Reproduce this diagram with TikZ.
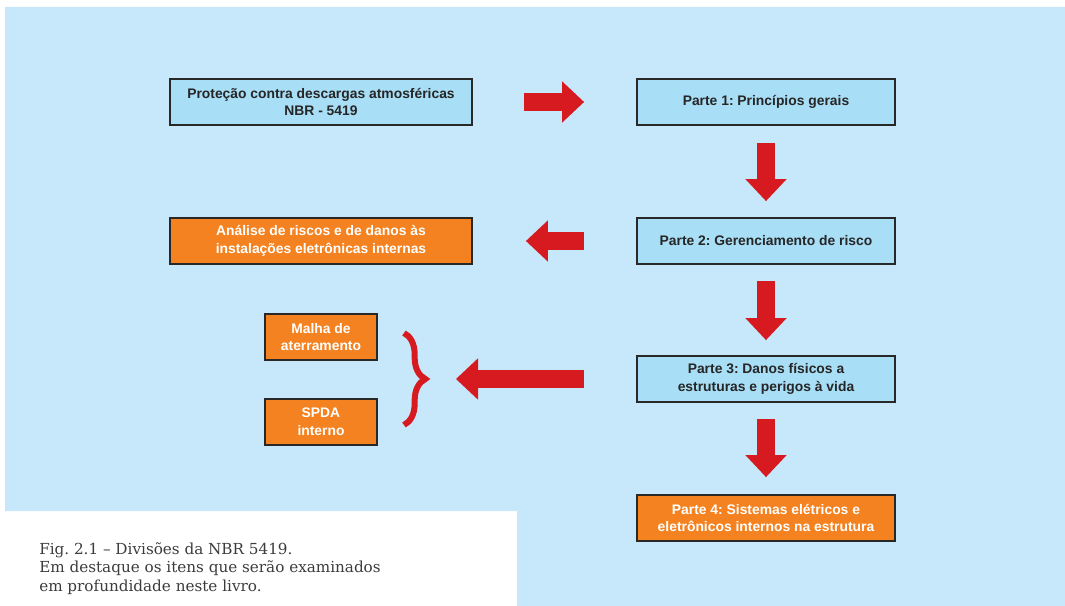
\documentclass[tikz,border=0pt]{standalone}
\usepackage{fontspec}
\setsansfont{Liberation Sans}
\newfontfamily\capfont{DejaVu Serif}
\usetikzlibrary{arrows.meta,decorations.pathreplacing}

\definecolor{bgblue}{RGB}{198,232,250}
\definecolor{boxblue}{RGB}{168,222,246}
\definecolor{boxorange}{RGB}{245,130,32}
\definecolor{arrowred}{RGB}{215,25,32}
\definecolor{boxline}{RGB}{40,40,40}
\definecolor{captext}{RGB}{60,60,60}

\tikzset{
  part/.style={draw=boxline, line width=1.4pt, fill=boxblue, text=black!85,
    minimum width=193.5pt, minimum height=34.5pt, align=center,
    font=\sffamily\bfseries\fontsize{10.4}{13.2}\selectfont},
  hilite/.style={part, fill=boxorange, text=white},
  bigarrow/.style={draw=arrowred, line width=13.5pt,
    -{Triangle[length=16.5pt,width=31pt,line width=0pt]}},
}

\begin{document}
\frenchspacing
\begin{tikzpicture}[x=0.75pt,y=-0.75pt]
\useasboundingbox (0,0) rectangle (1065,606);
\fill[bgblue] (5,7) -- (1065,7) -- (1065,606) -- (517,606) -- (517,511) -- (5,511) -- cycle;

% left column
\node[part, minimum width=226.5pt] (nbr) at (321,102) {Proteção contra descargas atmosféricas\\NBR - 5419};
\node[hilite, minimum width=226.5pt] (riscos) at (321,241) {Análise de riscos e de danos às\\instalações eletrônicas internas};
\node[hilite, minimum width=84pt] (malha) at (321,337) {Malha de\\aterramento};
\node[hilite, minimum width=84pt] (spda) at (321,422) {SPDA\\interno};

% right column
\node[part] (p1) at (766,102) {Parte 1: Princípios gerais};
\node[part] (p2) at (766,241) {Parte 2: Gerenciamento de risco};
\node[part] (p3) at (766,379) {Parte 3: Danos físicos a\\estruturas e perigos à vida};
\node[hilite] (p4) at (766,518) {Parte 4: Sistemas elétricos e\\eletrônicos internos na estrutura};

% arrows
\draw[bigarrow, shorten <=38.25pt, shorten >=39pt] (nbr.east) -- (p1.west);
\draw[bigarrow, shorten <=12.75pt, shorten >=12pt] (p1.south) -- (p2.north);
\draw[bigarrow, shorten <=39pt, shorten >=39.75pt] (p2.west) -- (riscos.east);
\draw[bigarrow, shorten <=12pt, shorten >=11.25pt] (p2.south) -- (p3.north);
\draw[bigarrow, shorten <=12pt, shorten >=12.75pt] (p3.south) -- (p4.north);

\coordinate (bracetip) at (428,379);
\draw[arrowred, line width=4.5pt, decorate, decoration={brace, amplitude=16pt}] (404,333) -- (404,425);
\draw[bigarrow, shorten <=39pt, shorten >=21pt] (p3.west) -- (bracetip);

\node[anchor=north west, inner sep=0pt, align=left, text=captext,
  font=\capfont\fontsize{11.4}{13.9}\selectfont] (caption) at (39,542)
  {Fig. 2.1 – Divisões da NBR 5419.\\Em destaque os itens que serão examinados\\em profundidade neste livro.};
\end{tikzpicture}
\end{document}
